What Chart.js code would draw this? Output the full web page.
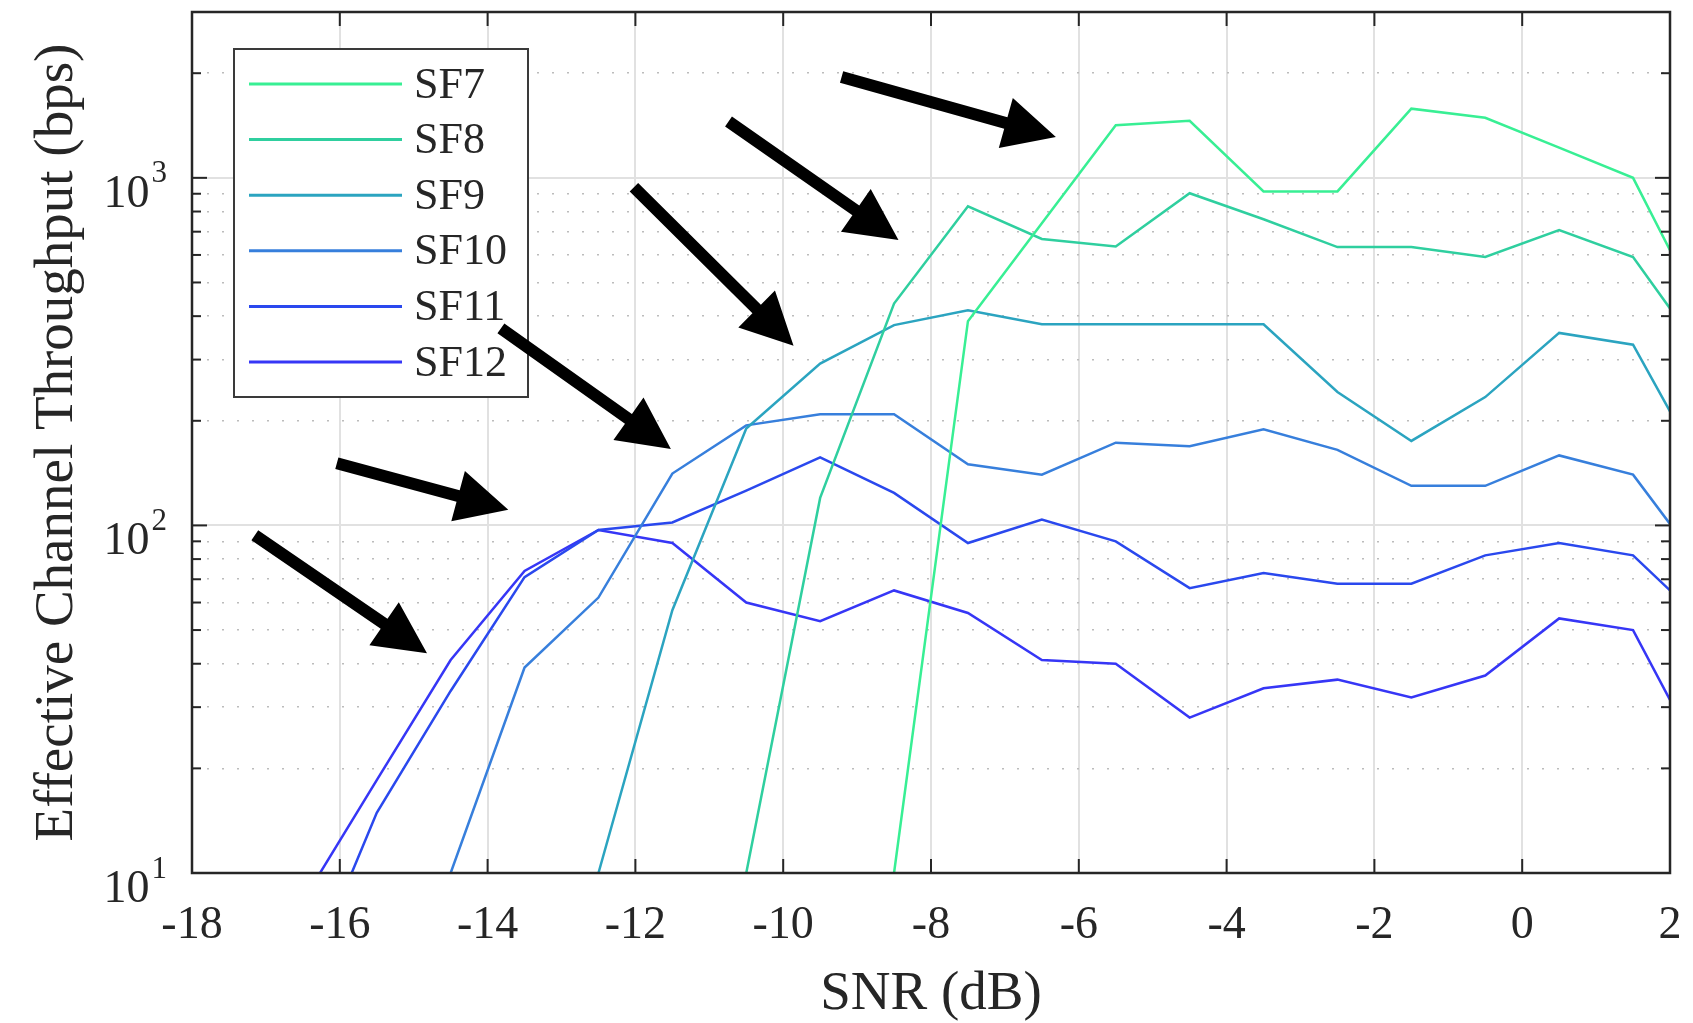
<!DOCTYPE html>
<html>
<head>
<meta charset="utf-8">
<script src="https://cdn.jsdelivr.net/npm/chart.js@4.4.1/dist/chart.umd.min.js"></script>
<style>
html,body{margin:0;padding:0;background:#fff;overflow:hidden}
#wrap{width:1693px;height:1023px;position:relative}
</style>
</head>
<body>
<div id="wrap"><canvas id="c" width="1693" height="1023"></canvas></div>
<script>
// ---- data ----
const snr  = [-16.5,-15.5,-14.5,-13.5,-12.5,-11.5,-10.5,-9.5,-8.5,-7.5,-6.5,-5.5,-4.5,-3.5,-2.5,-1.5,-0.5,0.5,1.5,2];
const sf7  = [null,null,null,null,null,null,null,null,10,387,740,1416,1459,914,914,1581,1489,1221,1000,619];
const sf8  = [null,null,null,null,null,null,10,120,435,828,667,635,903,760,632,632,592,708,592,421];
const sf9  = [null,null,null,null,10,57,190,292,377,416,379,379,379,379,242,175,234,358,331,213];
const sf10 = [null,null,10,39,62,141,194,209,209,150,140,173,169,189,165,130,130,159,140,101];
const sf11 = [4.6,14.9,33.4,71,97,102,126,157,124,89,104,90,66,73,68,68,82,89,82,65];
const sf12 = [8.3,18.5,41,74,97,89,60,53,65,56,41,40,28,34,36,32,37,54,50,31.5];

const seriesLabels = ['SF7','SF8','SF9','SF10','SF11','SF12'];
const seriesValues = [sf7, sf8, sf9, sf10, sf11, sf12];
const seriesColors = ['#38ef94','#2fcf9f','#2ba4c0','#377fdc','#2a48ee','#3636f6'];

const xTicks = [-18,-16,-14,-12,-10,-8,-6,-4,-2,0,2];
const yMajorTicks = [10,100,1000];
const yMinorTicks = [20,30,40,50,60,70,80,90,200,300,400,500,600,700,800,900,2000,3000];

// annotation arrows, in data units: [SNR, throughput]
const arrowTails = [[-17.15,93.7],[-16.04,151],[-13.82,369],[-12.02,940],[-10.74,1452],[-9.21,1950]];
const arrowTips  = [[-14.82,42.9],[-13.72,111],[-11.52,166],[-9.86,329],[-8.44,662],[-6.31,1310]];

const SERIF = '"Liberation Serif","Times New Roman",Times,serif';
const INK = '#262626';

const datasets = seriesLabels.map((lab, k) => ({
  label: lab,
  data: snr.map((x, i) => ({x: x, y: seriesValues[k][i]})),
  borderColor: seriesColors[k],
  backgroundColor: seriesColors[k],
  borderWidth: 2.5,
  pointRadius: 0,
  tension: 0,
  fill: false,
  clip: 0
}));

function seg(ctx, x0, y0, x1, y1){ ctx.beginPath(); ctx.moveTo(x0,y0); ctx.lineTo(x1,y1); ctx.stroke(); }

function drawArrow(ctx, x0, y0, x1, y1){
  const dx = x1-x0, dy = y1-y0, L = Math.hypot(dx,dy);
  const ux = dx/L, uy = dy/L, nx = -uy, ny = ux;
  const hl = 52, hw = 26, sw = 6;
  const bx = x1-ux*hl, by = y1-uy*hl;
  ctx.beginPath();
  ctx.moveTo(x0+nx*sw, y0+ny*sw);
  ctx.lineTo(bx+nx*sw, by+ny*sw);
  ctx.lineTo(bx+nx*hw, by+ny*hw);
  ctx.lineTo(x1, y1);
  ctx.lineTo(bx-nx*hw, by-ny*hw);
  ctx.lineTo(bx-nx*sw, by-ny*sw);
  ctx.lineTo(x0-nx*sw, y0-ny*sw);
  ctx.closePath();
  ctx.fill();
}

const decor = {
  id: 'decor',
  afterDatasetsDraw(chart){
    const ctx = chart.ctx, a = chart.chartArea, x = chart.scales.x, y = chart.scales.y;
    ctx.save();
    // box + inward ticks
    ctx.strokeStyle = INK;
    ctx.lineWidth = 2;
    xTicks.forEach(v => { const px = x.getPixelForValue(v); seg(ctx, px, a.bottom, px, a.bottom-14); seg(ctx, px, a.top, px, a.top+14); });
    yMajorTicks.forEach(v => { const py = y.getPixelForValue(v); seg(ctx, a.left, py, a.left+15, py); seg(ctx, a.right, py, a.right-15, py); });
    yMinorTicks.forEach(v => { const py = y.getPixelForValue(v); seg(ctx, a.left, py, a.left+9, py); seg(ctx, a.right, py, a.right-9, py); });
    ctx.lineWidth = 2.5;
    ctx.strokeRect(a.left, a.top, a.right-a.left, a.bottom-a.top);

    // y tick labels 10^n
    ctx.fillStyle = INK;
    ctx.textAlign = 'right';
    ctx.textBaseline = 'alphabetic';
    const rx = a.left - 25;
    yMajorTicks.forEach(v => {
      const py = y.getPixelForValue(v);
      const e = String(Math.round(Math.log10(v)));
      ctx.font = '31px ' + SERIF;
      const ew = ctx.measureText(e).width;
      ctx.fillText(e, rx, py + 4.5);
      ctx.font = '46px ' + SERIF;
      ctx.fillText('10', rx - ew - 2, py + 29);
    });

    // legend
    const lx = a.left + 42, ly = a.top + 37, lw = 294, lh = 348;
    ctx.fillStyle = '#ffffff';
    ctx.fillRect(lx, ly, lw, lh);
    ctx.strokeStyle = '#3a3a3a';
    ctx.lineWidth = 2;
    ctx.strokeRect(lx, ly, lw, lh);
    ctx.font = '44px ' + SERIF;
    ctx.textAlign = 'left';
    ctx.textBaseline = 'middle';
    chart.data.datasets.forEach((ds, i) => {
      const ry = ly + 35 + i*55.6;
      ctx.strokeStyle = ds.borderColor;
      ctx.lineWidth = 3;
      seg(ctx, lx+15, ry, lx+168, ry);
      ctx.fillStyle = INK;
      ctx.fillText(ds.label, lx + 180, ry + 2);
    });

    // arrows
    ctx.fillStyle = '#000000';
    arrowTails.forEach((t, i) => {
      const p = arrowTips[i];
      drawArrow(ctx, x.getPixelForValue(t[0]), y.getPixelForValue(t[1]), x.getPixelForValue(p[0]), y.getPixelForValue(p[1]));
    });
    ctx.restore();
  }
};

function build(){
  new Chart(document.getElementById('c'), {
    type: 'line',
    data: { datasets: datasets },
    options: {
      responsive: false,
      animation: false,
      parsing: true,
      layout: { padding: { top: 12, right: 23, left: 0, bottom: 0 } },
      plugins: { legend: { display: false }, tooltip: { enabled: false } },
      scales: {
        x: {
          type: 'linear', min: -18, max: 2, position: 'bottom',
          afterBuildTicks: s => { s.ticks = xTicks.map(v => ({value: v})); },
          ticks: { font: { family: SERIF, size: 46 }, color: INK, padding: 25, autoSkip: false, maxRotation: 0, callback: v => String(v) },
          grid: { color: '#e1e1e1', lineWidth: 2, drawTicks: false },
          border: { display: false },
          title: { display: true, text: 'SNR (dB)', color: INK, font: { family: SERIF, size: 55, lineHeight: 1 }, padding: { top: 0, bottom: 1 } },
          afterFit: s => { s.height = 150; s.paddingLeft = 0; s.paddingRight = 0; }
        },
        y: {
          type: 'logarithmic', min: 10, max: 3000, position: 'left',
          afterBuildTicks: s => { s.ticks = yMajorTicks.map(v => ({value: v})); },
          ticks: { display: false },
          grid: { color: '#e1e1e1', lineWidth: 2, drawTicks: false },
          border: { display: false },
          title: { display: true, text: 'Effective Channel Throughput (bps)', color: INK, font: { family: SERIF, size: 55, lineHeight: 1 }, padding: { top: 30, bottom: 0 } },
          afterFit: s => { s.width = 192; }
        },
        y2: {
          type: 'logarithmic', min: 10, max: 3000, position: 'left',
          afterBuildTicks: s => { s.ticks = yMinorTicks.map(v => ({value: v})); },
          ticks: { display: false },
          grid: { color: '#bcbcbc', lineWidth: 1.6, drawTicks: false },
          border: { display: false, dash: [2, 13] },
          afterFit: s => { s.width = 0; }
        }
      }
    },
    plugins: [decor]
  });
}
if (document.fonts && document.fonts.load) {
  Promise.all([document.fonts.load('46px "Liberation Serif"'), document.fonts.load('55px "Liberation Serif"')]).then(build, build);
} else { build(); }
</script>
</body>
</html>
